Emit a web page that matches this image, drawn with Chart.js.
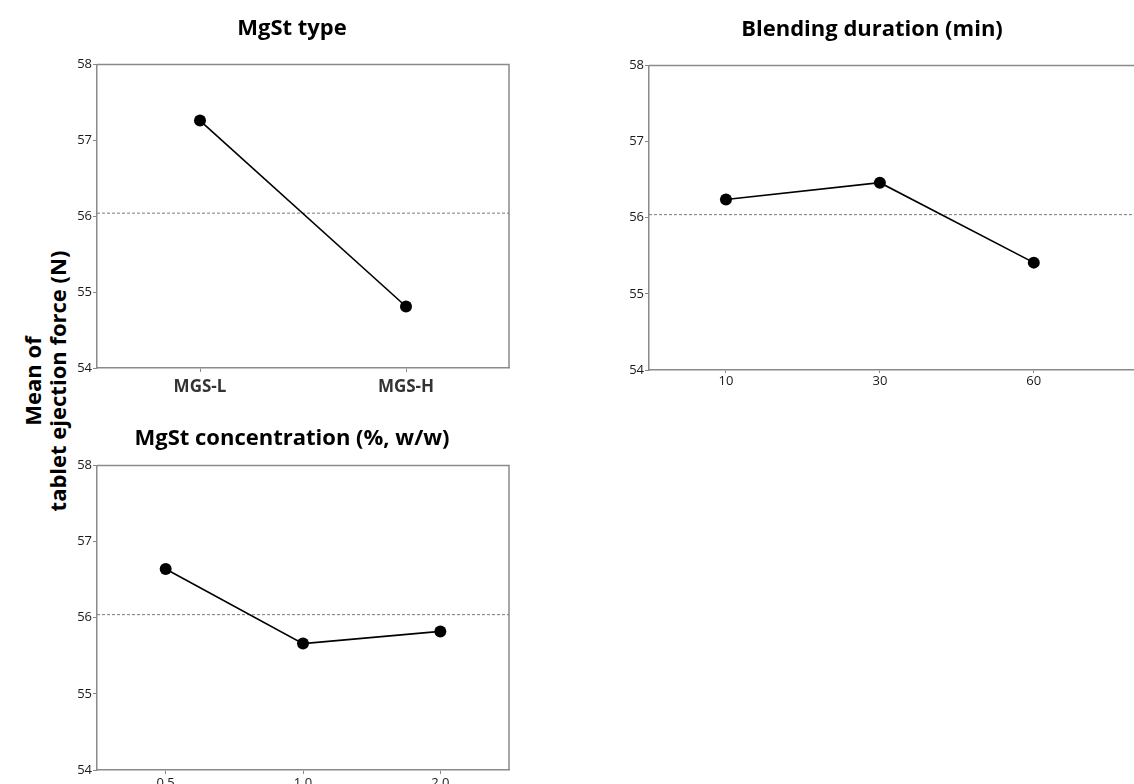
<!DOCTYPE html>
<html>
<head>
<meta charset="utf-8">
<script src="https://cdn.jsdelivr.net/npm/chart.js@4"></script>
<style>
  html, body { margin: 0; padding: 0; background: #fff; overflow: hidden; }
  body { width: 1134px; height: 784px; position: relative; }
  .panel { position: absolute; }
  #ytitle {
    position: absolute; left: -120px; top: 356px; width: 330px; height: 50px;
    transform: rotate(-90deg); transform-origin: 50% 50%;
    font: bold 22px 'Open Sans', sans-serif; line-height: 25px;
    text-align: center; color: #000; white-space: nowrap;
  }
</style>
</head>
<body>
<div id="ytitle">Mean of<br>tablet ejection force (N)</div>
<div class="panel" style="left:75px;top:0px;"><canvas id="typeChart" width="445" height="410"></canvas></div>
<div class="panel" style="left:604px;top:0px;"><canvas id="durationChart" width="560" height="410"></canvas></div>
<div class="panel" style="left:75px;top:410px;"><canvas id="concChart" width="445" height="374"></canvas></div>
<script>
// main effects data
const typeLabels = ['MGS-L', 'MGS-H'];
const typeMeans = [57.26, 54.81];

const durationLabels = ['10', '30', '60'];
const durationMeans = [56.24, 56.46, 55.41];

const concLabels = ['0.5', '1.0', '2.0'];
const concMeans = [56.64, 55.66, 55.82];

const yTicks = [54, 55, 56, 57, 58];
const grandMean = 56.04;

Chart.defaults.font.family = "'Open Sans', sans-serif";
Chart.defaults.color = '#1a1a1a';

const axisGray = '#8a8a8a';

// draws the top and right sides of the plot frame
const frame = {
    id: 'frame',
    beforeDatasetsDraw(chart) {
        const a = chart.chartArea;
        const c = chart.ctx;
        c.save();
        c.strokeStyle = axisGray;
        c.lineWidth = 1.5;
        c.beginPath();
        c.moveTo(a.left, a.top);
        c.lineTo(a.right, a.top);
        c.lineTo(a.right, a.bottom);
        c.stroke();
        c.restore();
    }
};

function makePanel(id, p) {
    const ctx = document.getElementById(id);
    const points = p.values.map((v, i) => ({ x: i + 1, y: v }));
    return new Chart(ctx.getContext('2d'), {
        type: 'line',
        data: {
            datasets: [{
                data: points,
                borderColor: '#000',
                borderWidth: 1.6,
                pointRadius: 6,
                pointBackgroundColor: '#000',
                pointBorderColor: '#000',
                pointBorderWidth: 0,
                order: 1
            }, {
                data: [{ x: 0.5, y: grandMean }, { x: p.xMax, y: grandMean }],
                borderColor: '#7a7a7a',
                borderWidth: 1,
                borderDash: [3, 2],
                pointRadius: 0,
                order: 2
            }]
        },
        options: {
            responsive: false,
            animation: false,
            layout: { padding: { left: 0, right: p.padRight, top: 0, bottom: 0 } },
            plugins: {
                legend: { display: false },
                tooltip: { enabled: false },
                title: {
                    display: true,
                    text: p.title,
                    color: '#000',
                    font: { size: 22, weight: 'bold' },
                    padding: { top: p.titleTop, bottom: p.titleBottom }
                }
            },
            scales: {
                x: {
                    type: 'linear',
                    min: 0.5,
                    max: p.xMax,
                    afterBuildTicks: s => { s.ticks = p.labels.map((_, i) => ({ value: i + 1 })); },
                    afterFit: s => { s.height = p.xHeight; },
                    grid: { display: true, drawOnChartArea: false, tickLength: p.tickLen, tickColor: axisGray },
                    border: { display: true, color: axisGray, width: 1.5 },
                    ticks: {
                        autoSkip: false,
                        maxRotation: 0,
                        padding: p.xPad,
                        color: p.xColor,
                        font: p.xFont,
                        callback: v => p.labels[v - 1]
                    }
                },
                y: {
                    min: 54,
                    max: 58,
                    afterBuildTicks: s => { s.ticks = yTicks.map(v => ({ value: v })); },
                    afterFit: s => { s.width = p.yWidth; },
                    grid: { display: true, drawOnChartArea: false, tickLength: 4, tickColor: axisGray },
                    border: { display: true, color: axisGray, width: 1.5 },
                    ticks: { padding: 1, font: { size: 13 } }
                }
            }
        },
        plugins: [frame]
    });
}

makePanel('typeChart', {
    title: 'MgSt type', labels: typeLabels, values: typeMeans,
    xMax: 2.5, padRight: 11, yWidth: 22, xHeight: 42,
    titleTop: 16, titleBottom: 22, tickLen: 4, xPad: 5,
    xColor: '#333', xFont: { size: 17, weight: 'bold' }
});

makePanel('durationChart', {
    title: 'Blending duration (min)', labels: durationLabels, values: durationMeans,
    xMax: 3.69, padRight: 24, yWidth: 45, xHeight: 40,
    titleTop: 17, titleBottom: 22, tickLen: 3, xPad: 0,
    xColor: '#1a1a1a', xFont: { size: 13 }
});

makePanel('concChart', {
    title: 'MgSt concentration (%, w/w)', labels: concLabels, values: concMeans,
    xMax: 3.5, padRight: 11, yWidth: 22, xHeight: 14,
    titleTop: 16, titleBottom: 13, tickLen: 4, xPad: 1,
    xColor: '#1a1a1a', xFont: { size: 13 }
});
</script>
</body>
</html>
